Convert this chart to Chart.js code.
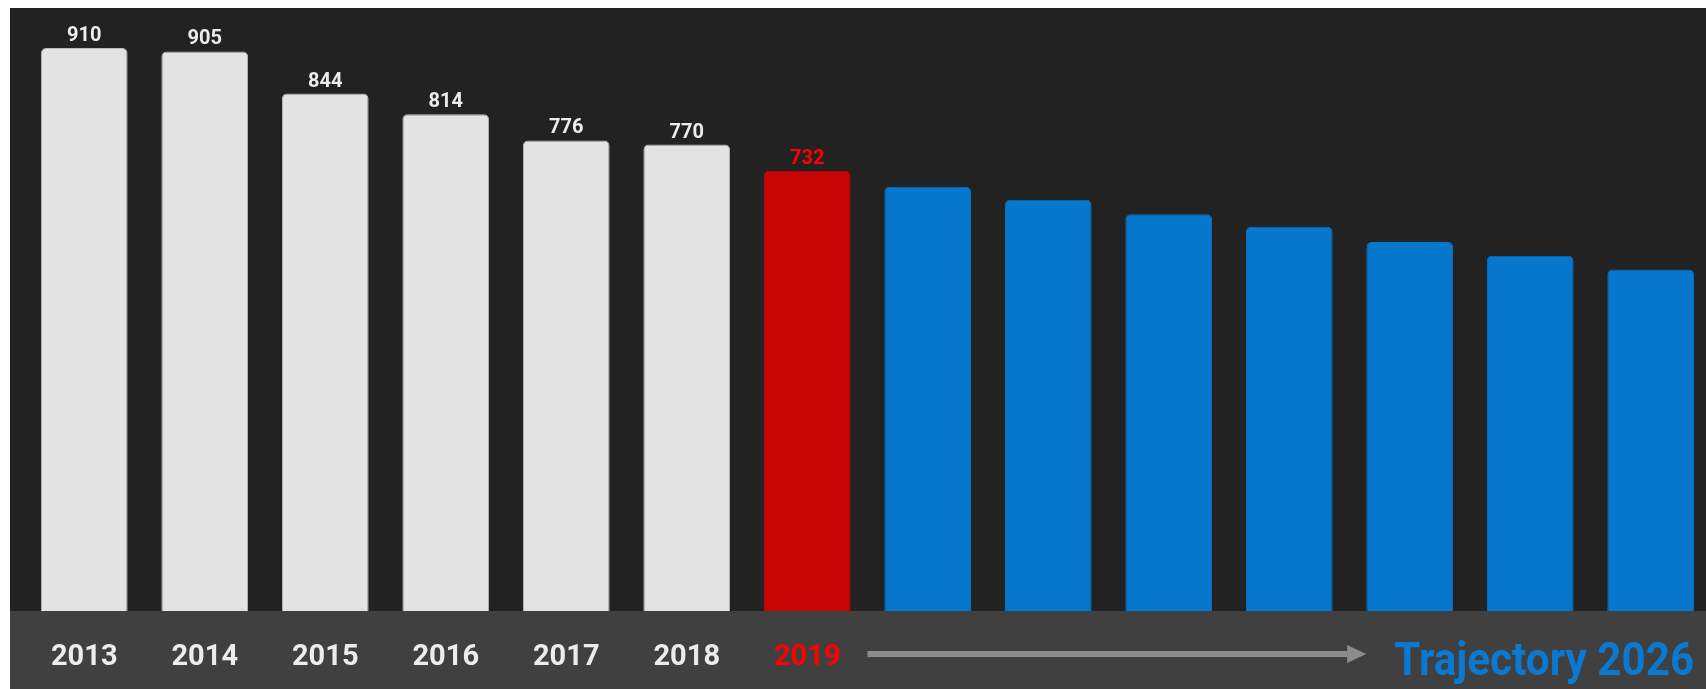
<!DOCTYPE html>
<html>
<head>
<meta charset="utf-8">
<script src="https://cdn.jsdelivr.net/npm/chart.js@4"></script>
<style>
html,body{margin:0;padding:0;background:#ffffff;overflow:hidden;width:1706px;height:689px;}
#wrap{position:absolute;left:10px;top:8px;width:1702px;height:681px;background:#222222;}
</style>
</head>
<body>
<div id="wrap"><canvas id="c"></canvas></div>
<script>
// ---- data ----
const years = ['2013','2014','2015','2016','2017','2018','2019','2020','2021','2022','2023','2024','2025','2026'];
const values = [910, 905, 844, 814, 776, 770, 732, 709, 690, 669, 651, 629, 609, 589];
const highlightYear = '2019';
const trajectoryLabel = 'Trajectory 2026';

// ---- colours ----
const COL_PAST = '#e3e3e3';
const COL_PAST_BORDER = '#bcbcbc';
const COL_HI = '#c80505';
const COL_HI_TEXT = '#ff0000';
const COL_FUTURE = '#0677cc';
const COL_TEXT = '#ececec';
const COL_BAND = '#404040';
const COL_ARROW = '#8c8c8c';
const COL_TRAJ = '#0a79d1';

const hiIndex = years.indexOf(highlightYear);
const fillColors = years.map((y, i) => i < hiIndex ? COL_PAST : (i === hiIndex ? COL_HI : COL_FUTURE));
const borderColors = years.map((y, i) => i < hiIndex ? COL_PAST_BORDER : fillColors[i]);

const decor = {
  id: 'decor',
  beforeDraw(chart) {
    const { ctx, chartArea, width, height } = chart;
    ctx.save();
    ctx.fillStyle = COL_BAND;
    ctx.fillRect(0, chartArea.bottom, width, height - chartArea.bottom);
    ctx.restore();
  },
  afterDatasetsDraw(chart) {
    const { ctx, chartArea } = chart;
    const meta = chart.getDatasetMeta(0);
    ctx.save();
    // value labels for actual years
    ctx.font = '700 20px Roboto';
    ctx.textAlign = 'center';
    ctx.textBaseline = 'alphabetic';
    meta.data.forEach((bar, i) => {
      if (i > hiIndex) return;
      ctx.fillStyle = i === hiIndex ? COL_HI_TEXT : COL_TEXT;
      ctx.fillText(String(values[i]), bar.x, bar.y - 7);
    });
    // trajectory label, right-aligned to last bar
    const lastBar = meta.data[meta.data.length - 1];
    const right = lastBar.x + lastBar.width / 2;
    ctx.font = '700 46px Roboto';
    const w = ctx.measureText(trajectoryLabel).width;
    const targetW = 300;
    const sx = targetW / w;
    const base = chartArea.bottom + 64;
    ctx.save();
    ctx.translate(right - targetW, base);
    ctx.scale(sx, 1);
    ctx.textAlign = 'left';
    ctx.fillStyle = COL_TRAJ;
    ctx.fillText(trajectoryLabel, 0, 0);
    ctx.restore();
    // arrow from after highlight year to trajectory label
    const hiBar = meta.data[hiIndex];
    const step = meta.data[1].x - meta.data[0].x;
    const x0 = hiBar.x + step / 2;
    const x1 = right - targetW - 28;
    const ay = chartArea.bottom + 43;
    ctx.fillStyle = COL_ARROW;
    ctx.fillRect(x0, ay - 3, (x1 - 19) - x0, 6);
    ctx.beginPath();
    ctx.moveTo(x1 - 19, ay - 9);
    ctx.lineTo(x1, ay);
    ctx.lineTo(x1 - 19, ay + 9);
    ctx.closePath();
    ctx.fill();
    ctx.restore();
  }
};

new Chart(document.getElementById('c'), {
  type: 'bar',
  data: {
    labels: years,
    datasets: [{
      data: values,
      backgroundColor: fillColors,
      borderColor: borderColors,
      borderWidth: 1,
      borderSkipped: 'start',
      borderRadius: { topLeft: 5, topRight: 5, bottomLeft: 0, bottomRight: 0 },
      categoryPercentage: 1.0,
      barPercentage: 0.72
    }]
  },
  options: {
    responsive: true,
    maintainAspectRatio: false,
    animation: false,
    layout: { padding: { left: 14, right: 1, top: 0, bottom: 0 } },
    plugins: { legend: { display: false }, tooltip: { enabled: false } },
    scales: {
      y: {
        display: false,
        min: 94,
        max: 968
      },
      x: {
        grid: { display: false, drawTicks: false },
        border: { display: false },
        afterFit(scale) { scale.height = 78; },
        ticks: {
          autoSkip: false,
          maxRotation: 0,
          padding: 29,
          font: { family: 'Roboto', weight: '700', size: 29 },
          color: (c) => c.index === hiIndex ? COL_HI_TEXT : COL_TEXT,
          callback: (v, i) => i <= hiIndex ? years[i] : ''
        }
      }
    }
  },
  plugins: [decor]
});
</script>
</body>
</html>
